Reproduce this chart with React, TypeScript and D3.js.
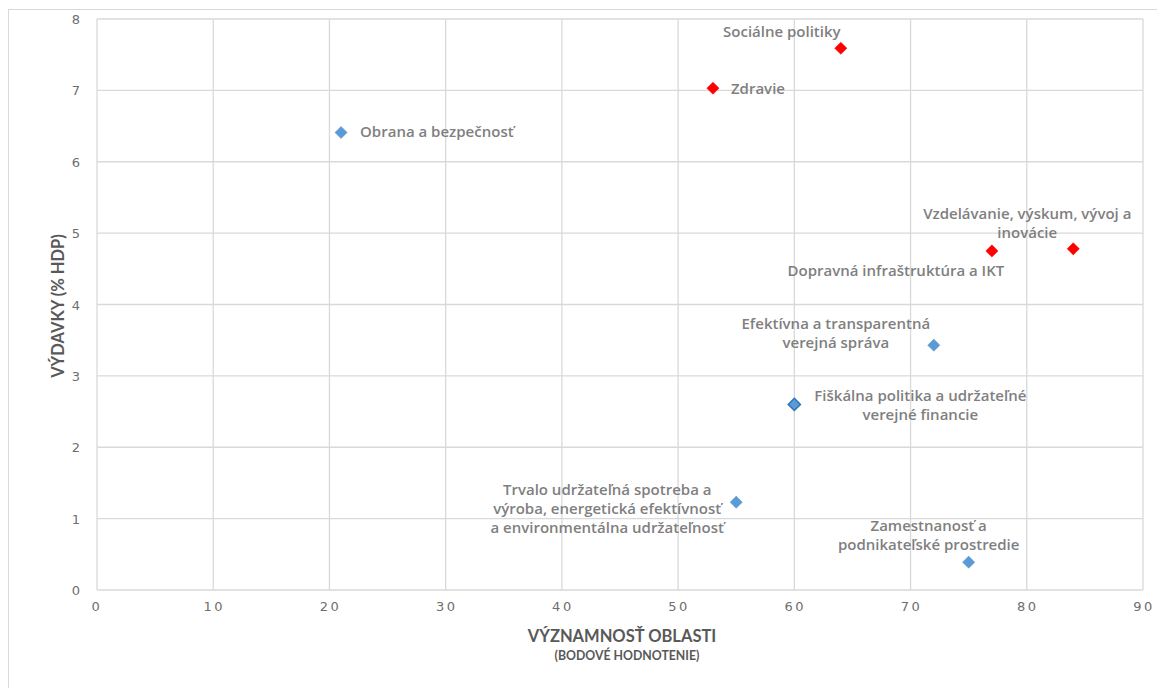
import React from "react";
import * as d3 from "d3";

const categories = [
  "Obrana a bezpečnosť",
  "Zdravie",
  "Sociálne politiky",
  "Vzdelávanie, výskum, vývoj a inovácie",
  "Dopravná infraštruktúra a IKT",
  "Efektívna a transparentná verejná správa",
  "Fiškálna politika a udržateľné verejné financie",
  "Trvalo udržateľná spotreba a výroba, energetická efektívnosť a environmentálna udržateľnosť",
  "Zamestnanosť a podnikateľské prostredie",
];
const importance = [21, 53, 64, 84, 77, 72, 60, 55, 75];
const spending = [6.41, 7.03, 7.59, 4.78, 4.75, 3.43, 2.6, 1.23, 0.39];
const groups = ["blue", "red", "red", "red", "red", "blue", "blueDark", "blue", "blue"];
const labelLines = [
  ["Obrana a bezpečnosť"],
  ["Zdravie"],
  ["Sociálne politiky"],
  ["Vzdelávanie, výskum, vývoj a", "inovácie"],
  ["Dopravná infraštruktúra a IKT"],
  ["Efektívna a transparentná", "verejná správa"],
  ["Fiškálna politika a udržateľné", "verejné financie"],
  ["Trvalo udržateľná spotreba a", "výroba, energetická efektívnosť", "a environmentálna udržateľnosť"],
  ["Zamestnanosť a", "podnikateľské prostredie"],
];
const xTicks = [0, 10, 20, 30, 40, 50, 60, 70, 80, 90];
const yTicks = [0, 1, 2, 3, 4, 5, 6, 7, 8];

// label placement (offsets from the marker, px) and anchoring
const labelLayout = [
  { dx: 19, dy: 0, anchor: "start" },
  { dx: 18, dy: 1, anchor: "start" },
  { dx: -59, dy: -16, anchor: "middle" },
  { dx: -46, dy: -35, anchor: "middle" },
  { dx: -96, dy: 20, anchor: "middle" },
  { dx: -98, dy: -21, anchor: "middle" },
  { dx: 126, dy: -8, anchor: "middle" },
  { dx: -129, dy: -12, anchor: "middle" },
  { dx: -40, dy: -36, anchor: "middle" },
];

const W = 1157;
const H = 688;
const plot = { left: 97, right: 1143, top: 19, bottom: 590 };
const colors: Record<string, { fill: string; stroke: string }> = {
  blue: { fill: "#5B9BD5", stroke: "#5B9BD5" },
  blueDark: { fill: "#5B9BD5", stroke: "#2E75B6" },
  red: { fill: "#FF0000", stroke: "#FF0000" },
};

export default function App() {
  const x = d3.scaleLinear().domain([0, 90]).range([plot.left, plot.right]);
  const y = d3.scaleLinear().domain([0, 8]).range([plot.bottom, plot.top]);
  const diamond = d3.symbol().type(d3.symbolDiamond2).size(95)();
  const grid = "#D9D9D9";
  const labelFont = "'Open Sans', Lato, sans-serif";
  const titleFont = "Lato, 'Open Sans', sans-serif";
  const lineH = 19;

  return (
    <div style={{ position: "absolute", left: 0, top: 0, width: W, height: H, overflow: "hidden", background: "#fff" }}>
      <svg width={W} height={H} style={{ display: "block" }}>
        <rect x={8.5} y={9.5} width={W + 10} height={H + 10} fill="#fff" stroke={grid} strokeWidth={1} />
        {/* grid */}
        {xTicks.map((t) => (
          <line key={"gx" + t} x1={x(t)} x2={x(t)} y1={plot.top} y2={plot.bottom} stroke={grid} strokeWidth={1.3} />
        ))}
        {yTicks.map((t) => (
          <line key={"gy" + t} x1={plot.left} x2={plot.right} y1={y(t)} y2={y(t)} stroke={grid} strokeWidth={1.3} />
        ))}
        {/* tick labels */}
        {xTicks.map((t) => (
          <text
            key={"tx" + t}
            x={x(t) + (t === 0 ? 0 : 1)}
            y={plot.bottom + 21}
            textAnchor="middle"
            fontFamily="'DejaVu Sans', sans-serif"
            fontSize={13}
            letterSpacing={2.5}
            fill="#6E6E6E"
          >
            {t}
          </text>
        ))}
        {yTicks.map((t) => (
          <text
            key={"ty" + t}
            x={plot.left - 17}
            y={y(t) + 5}
            textAnchor="end"
            fontFamily="'DejaVu Sans', sans-serif"
            fontSize={13}
            fill="#6E6E6E"
          >
            {t}
          </text>
        ))}
        {/* axis titles */}
        <text
          x={622}
          y={642}
          textAnchor="middle"
          fontFamily={titleFont}
          fontWeight="bold"
          fontSize={16.5}
          fill="#595959"
        >
          VÝZNAMNOSŤ OBLASTI
        </text>
        <text
          x={627}
          y={660}
          textAnchor="middle"
          fontFamily={titleFont}
          fontWeight="bold"
          fontSize={12.3}
          fill="#595959"
        >
          (BODOVÉ HODNOTENIE)
        </text>
        <text
          transform={`translate(64, ${306}) rotate(-90)`}
          textAnchor="middle"
          fontFamily={titleFont}
          fontWeight="bold"
          fontSize={16.5}
          fill="#595959"
        >
          VÝDAVKY (% HDP)
        </text>
        {/* points */}
        {categories.map((c, i) => (
          <path
            key={"p" + i}
            d={diamond || ""}
            transform={`translate(${x(importance[i])}, ${y(spending[i])})`}
            fill={colors[groups[i]].fill}
            stroke={colors[groups[i]].stroke}
            strokeWidth={groups[i] === "blueDark" ? 1.5 : 0.5}
          />
        ))}
        {/* labels */}
        {categories.map((c, i) => {
          const px = x(importance[i]);
          const py = y(spending[i]);
          const L = labelLayout[i];
          return (
            <text
              key={"l" + i}
              textAnchor={L.anchor as any}
              fontFamily={labelFont}
              fontWeight={600}
              fontSize={15}
              fill="#7F7F7F"
            >
              {labelLines[i].map((ln, j) => (
                <tspan key={j} x={px + L.dx} y={py + L.dy + 5 + j * lineH}>
                  {ln}
                </tspan>
              ))}
            </text>
          );
        })}
      </svg>
    </div>
  );
}
